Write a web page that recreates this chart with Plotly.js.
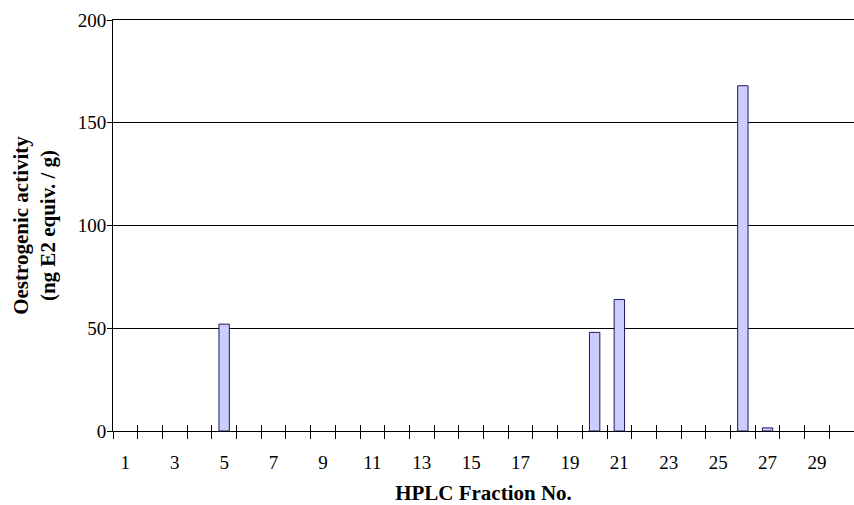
<!DOCTYPE html>
<html>
<head>
<meta charset="utf-8">
<script src="https://cdn.plot.ly/plotly-3.0.1.min.js"></script>
<style>html,body{margin:0;padding:0;background:#fff}#chart{width:854px;height:505px}</style>
</head>
<body>
<div id="chart"></div>
<script>
// HPLC fraction numbers
const fractions = [1,2,3,4,5,6,7,8,9,10,11,12,13,14,15,16,17,18,19,20,21,22,23,24,25,26,27,28,29,30];
// Oestrogenic activity (ng E2 equiv. / g)
const activity = [0,0,0,0,52,0,0,0,0,0,0,0,0,0,0,0,0,0,0,48,64,0,0,0,0,168,1.5,0,0,0];
// labelled fractions
const tickLabels = [1,3,5,7,9,11,13,15,17,19,21,23,25,27,29];
// y axis ticks
const yTicks = [0, 50, 100, 150, 200];
// category boundaries (tick marks)
const boundaries = [];
for (let i = 0; i <= fractions.length; i++) boundaries.push(fractions[0] - 0.5 + i);

const font = '"Liberation Serif", "Times New Roman", Times, serif';

const data = [
  {
    type: 'bar',
    x: fractions,
    y: activity.map(v => v === 0 ? null : v),
    width: 0.42,
    marker: {color: '#CCCCFF', line: {color: '#1a1a5e', width: 1}},
    hoverinfo: 'x+y'
  },
  {
    type: 'scatter', mode: 'markers',
    x: [fractions[0]], y: [0], xaxis: 'x2', yaxis: 'y',
    marker: {opacity: 0}, hoverinfo: 'skip', showlegend: false
  }
];

const layout = {
  width: 854, height: 505,
  margin: {l: 113, r: 0, t: 20, b: 74},
  paper_bgcolor: '#fff', plot_bgcolor: '#fff',
  showlegend: false,
  font: {family: font, size: 19, color: '#000'},
  xaxis: {
    type: 'linear',
    range: [0.5, 30.5],
    tickmode: 'array',
    tickvals: tickLabels,
    ticktext: tickLabels.map(String),
    ticks: 'outside', ticklen: 14, tickcolor: 'rgba(0,0,0,0)',
    showgrid: false, zeroline: false,
    showline: true, linecolor: '#000', linewidth: 1, mirror: true,
    tickfont: {family: font, size: 19, color: '#000'},
    minor: {tickmode: 'array', tickvals: boundaries, ticks: 'outside', ticklen: 7, tickwidth: 1, tickcolor: '#000', showgrid: false},
    title: {text: '<b>HPLC Fraction No.</b>', font: {family: font, size: 21, color: '#000'}, standoff: 16},
    fixedrange: true
  },
  xaxis2: {
    overlaying: 'x', matches: 'x', anchor: 'y',
    type: 'linear', range: [0.5, 30.5],
    tickmode: 'array', tickvals: boundaries,
    ticks: 'inside', ticklen: 6, tickwidth: 1, tickcolor: '#000',
    showticklabels: false, showgrid: false, zeroline: false, showline: false
  },
  yaxis: {
    range: [0, 200],
    tickmode: 'array', tickvals: yTicks,
    ticks: 'outside', ticklen: 5, tickwidth: 1, tickcolor: '#000',
    ticklabelstandoff: -3,
    showgrid: true, gridcolor: '#000', gridwidth: 1,
    zeroline: false,
    showline: true, linecolor: '#000', linewidth: 1,
    tickfont: {family: font, size: 19, color: '#000'},
    title: {text: '<b>Oestrogenic activity<br>(ng E2 equiv. / g)</b>', font: {family: font, size: 21, color: '#000'}, standoff: 16},
    fixedrange: true
  }
};

Plotly.newPlot('chart', data, layout, {displayModeBar: false, staticPlot: true});
</script>
</body>
</html>
